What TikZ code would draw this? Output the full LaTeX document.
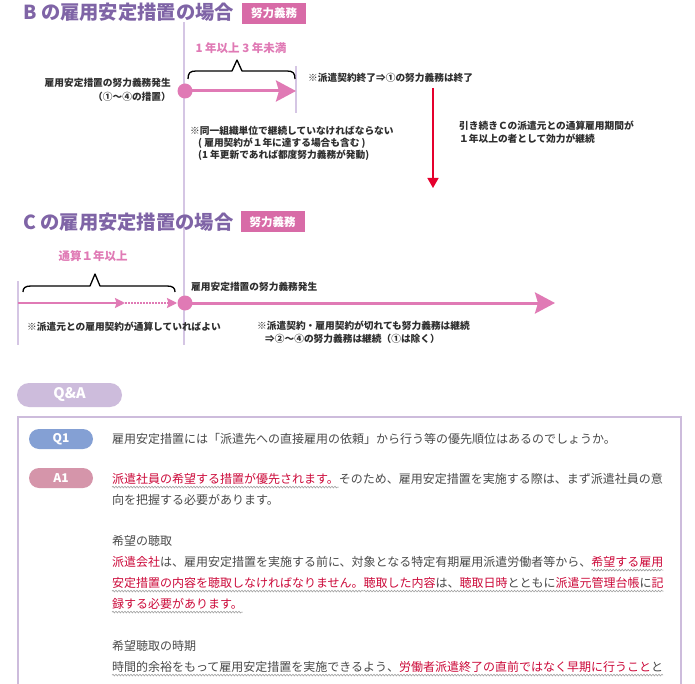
\documentclass[tikz,border=0pt]{standalone}
\usepackage{fontspec}
\newfontfamily\jp{Noto Sans CJK JP}
\usetikzlibrary{arrows.meta,decorations.pathmorphing}
\definecolor{ttlpurple}{HTML}{7F64A6}
\definecolor{badgepink}{HTML}{D86BA7}
\definecolor{apink}{HTML}{E07AB5}
\definecolor{vlinec}{HTML}{D5C6E4}
\definecolor{redarrow}{HTML}{E5002D}
\definecolor{qapurple}{HTML}{CDBCDC}
\definecolor{qblue}{HTML}{84A0D4}
\definecolor{apinkpill}{HTML}{D595AA}
\definecolor{txtred}{HTML}{CC0A3A}
\definecolor{txtgray}{HTML}{4A4A4A}
\definecolor{darktxt}{HTML}{2E2E2E}
\begin{document}
\begin{tikzpicture}[x=1pt,y=-1pt,
  ttl/.style={font=\jp\bfseries\fontsize{19.3}{20}\selectfont, text=ttlpurple, inner sep=0pt, anchor=west},
  badge/.style={fill=badgepink, text=white, font=\jp\bfseries\fontsize{11.5}{12}\selectfont, inner sep=0pt, minimum width=64pt, minimum height=21pt},
  smalltxt/.style={font=\jp\bfseries\fontsize{9.7}{12}\selectfont, text=darktxt, inner sep=0pt},
  pinklbl/.style={font=\jp\bfseries\fontsize{11.5}{12}\selectfont, text=apink, inner sep=0pt},
  vline/.style={draw=vlinec, line width=2pt},
  dotnode/.style={circle, fill=apink, minimum size=15pt, inner sep=0pt},
  bigarrow/.style={draw=apink, line width=3pt, -{Stealth[length=20pt, width=21pt, inset=3pt]}},
  thinarrow/.style={draw=apink, line width=2pt, -{Stealth[length=10pt, width=10pt, inset=1.5pt]}},
  dotarrow/.style={draw=apink, line width=1.6pt, dash pattern=on 1.5pt off 1.5pt, -{Stealth[length=10pt, width=10pt, inset=1.5pt]}},
  bracepath/.style={draw=black, line width=1.3pt, line join=round},
  pill/.style={rounded corners=10pt, inner sep=0pt, text=white, font=\jp\bfseries\fontsize{12}{12}\selectfont},
  body/.style={font=\jp\fontsize{12}{12}\selectfont, text=txtgray, inner sep=0pt, outer sep=0pt, anchor=base west},
  bodyred/.style={body, text=txtred},
  wavy/.style={draw=gray!75, line width=0.6pt, decorate, decoration={snake, amplitude=0.8pt, segment length=3pt}}
]
\clip (0,0) rectangle (695,684);
\fill[white] (0,0) rectangle (695,684);

% ---------- B section ----------
\draw[vline] (184,22) -- (184,345);
\draw[vline] (296,66) -- (296,113);

\node[ttl] (titleB) at (23,12) {B の雇用安定措置の場合};
\node[badge] (badgeB) at (274,13.5) {努力義務};

\node[pinklbl] (spanB) at (241,48) {1 年以上 3 年未満};
\draw[bracepath] (188,79) .. controls (188,73) and (190,71) .. (196,71) -- (232,71) -- (237,60) -- (242,71) -- (287,71) .. controls (293,71) and (295,73) .. (295,79);

\node[dotnode] (dotB) at (185,91) {};
\coordinate (endB) at (296,91);
\draw[bigarrow] (dotB.center) -- (endB);

\node[smalltxt, anchor=east] (lblB1) at (171,83) {雇用安定措置の努力義務発生};
\node[smalltxt, anchor=east] (lblB2) at (171,97) {（①～④の措置）};

\node[smalltxt, anchor=west] (endnoteB) at (308,78) {※派遣契約終了⇒①の努力義務は終了};

\node[smalltxt, anchor=west] (noteB1) at (190,131) {※同一組織単位で継続していなければならない};
\node[smalltxt, anchor=west] (noteB2) at (198,143) {( 雇用契約が１年に達する場合も含む )};
\node[smalltxt, anchor=west] (noteB3) at (198,155) {(1 年更新であれば都度努力義務が発動)};

\coordinate (redtop) at (433,88);
\coordinate (redbot) at (433,188);
\draw[draw=redarrow, line width=1.5pt, -{Triangle[length=10pt, width=11pt]}] (redtop) -- (redbot);

\node[smalltxt, anchor=west] (contB1) at (459,126) {引き続きＣの派遣元との通算雇用期間が};
\node[smalltxt, anchor=west] (contB2) at (459,139) {１年以上の者として効力が継続};

% ---------- C section ----------
\draw[vline] (18,281) -- (18,345);

\node[ttl] (titleC) at (23,222) {C の雇用安定措置の場合};
\node[badge] (badgeC) at (272.5,222) {努力義務};

\node[pinklbl] (spanC) at (93,256) {通算１年以上};
\draw[bracepath] (23,292) .. controls (23,288) and (25,286) .. (31,286) -- (90,286) -- (95,274) -- (100,286) -- (167,286) .. controls (173,286) and (175,288) .. (175,292);

\coordinate (c0) at (18,303);
\coordinate (c1) at (125,303);
\coordinate (c2) at (177,303);
\node[dotnode] (dotC) at (185,303) {};
\coordinate (endC) at (555,303);
\draw[thinarrow] (c0) -- (c1);
\draw[dotarrow] (c1) -- (c2);
\draw[bigarrow] (dotC.center) -- (endC);

\node[smalltxt, anchor=west] (lblC) at (191,287) {雇用安定措置の努力義務発生};
\node[smalltxt, anchor=west] (noteC1) at (27,327) {※派遣元との雇用契約が通算していればよい};
\node[smalltxt, anchor=west] (noteC2) at (257,326) {※派遣契約・雇用契約が切れても努力義務は継続};
\node[smalltxt, anchor=west] (noteC3) at (265,339) {⇒②～④の努力義務は継続（①は除く）};

% ---------- Q&A ----------
\node[pill, fill=qapurple, minimum width=105pt, minimum height=24pt, rounded corners=12pt, font=\jp\bfseries\fontsize{14.5}{14.5}\selectfont] (qa) at (69.5,395) {Q\&A};
\draw[draw=qapurple, line width=2pt] (18,417) rectangle (681,720);

\node[pill, fill=qblue, minimum width=64pt, minimum height=20pt] (q1) at (61,439) {Q1};
\node[pill, fill=apinkpill, minimum width=64pt, minimum height=20pt] (a1) at (61,478) {A1};

\node[body] (q1t) at (112,443.6) {雇用安定措置には「派遣先への直接雇用の依頼」から行う等の優先順位はあるのでしょうか。};

\node[bodyred] (l1a) at (112,483.6) {派遣社員の希望する措置が優先されます。};
\node[body] (l1b) at (l1a.base east) {そのため、雇用安定措置を実施する際は、まず派遣社員の意};
\node[body] (l2) at (112,504.6) {向を把握する必要があります。};

\node[body] (h1) at (112,545.6) {希望の聴取};
\node[bodyred] (l4a) at (112,566.6) {派遣会社};
\node[body] (l4b) at (l4a.base east) {は、雇用安定措置を実施する前に、対象となる特定有期雇用派遣労働者等から、};
\node[bodyred] (l4c) at (l4b.base east) {希望する雇用};
\node[bodyred] (l5a) at (112,587.6) {安定措置の内容を聴取しなければなりません。};
\node[body] (l5b) at (l5a.base east) {\textcolor{txtred}{聴取した内容}は、\textcolor{txtred}{聴取日時}とともに\textcolor{txtred}{派遣元管理台帳}に\textcolor{txtred}{記}};
\node[bodyred] (l6) at (112,608.6) {録する必要があります。};

\node[body] (h2) at (112,650.6) {希望聴取の時期};
\node[body] (l8a) at (112,671.6) {時間的余裕をもって雇用安定措置を実施できるよう、};
\node[bodyred] (l8b) at (l8a.base east) {労働者派遣終了の直前ではなく早期に行うこと};
\node[body] (l8c) at (l8b.base east) {と};

\foreach \n in {l1a,l4c,l5a,l5b,l6}{
  \draw[wavy] ([yshift=-3.5pt]\n.base west) -- ([yshift=-3.5pt]\n.base east);
}
\draw[wavy] ([yshift=-3.5pt]l8a.base west) -- ([yshift=-3.5pt]l8c.base east);
\end{tikzpicture}
\end{document}
